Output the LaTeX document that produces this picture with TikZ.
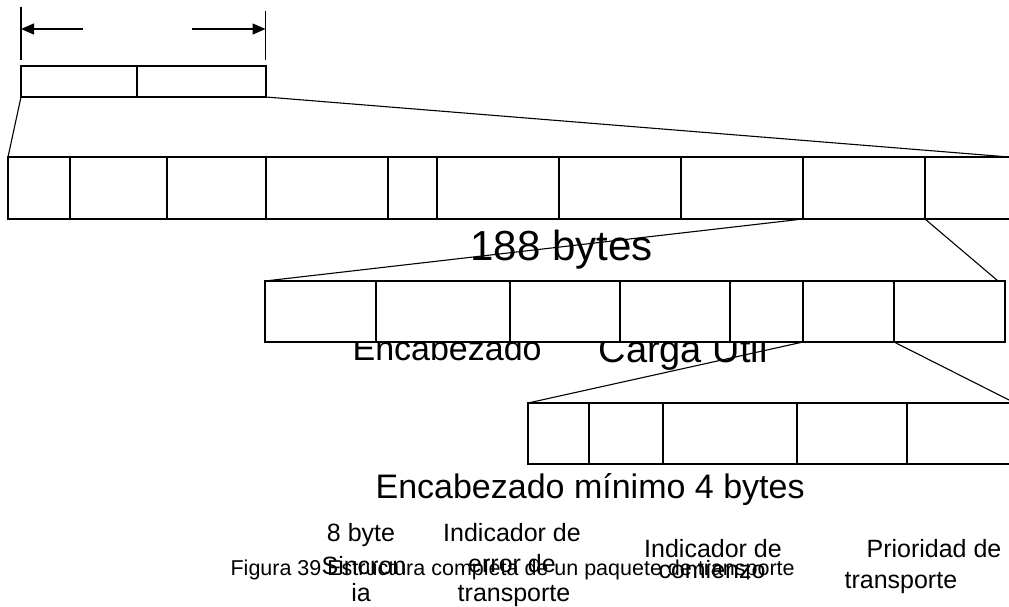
\documentclass[tikz,border=0pt]{standalone}
\usepackage{fontspec}
\setmainfont{Liberation Sans}
\usetikzlibrary{arrows.meta}
\begin{document}
\begin{tikzpicture}[x=1pt,y=-1pt,line width=1.2pt,
  rowbox/.style={draw,fill=white},
  conn/.style={draw,line width=1.1pt},
  dimarrow/.style={draw,-{Triangle[length=13pt,width=11pt]}},
  lbl/.style={inner sep=0pt,anchor=base},
  bigfont/.style={font=\fontsize{42}{48}\selectfont},
  midfont/.style={font=\fontsize{34}{40}\selectfont},
  smallfont/.style={font=\fontsize{25}{30}\selectfont},
  captionfont/.style={font=\fontsize{21.5}{26}\selectfont}]
\useasboundingbox (0,0) rectangle (1009,607);
\clip (0,0) rectangle (1009,607);
% ---- coordinates ----
\coordinate (t0) at (21,66);   \coordinate (b0) at (21,97);
\coordinate (t0r) at (266,66); \coordinate (b0r) at (266,97);
\coordinate (r1tl) at (8,157); \coordinate (r1br) at (1040,219);
\coordinate (r1tr) at (1009,157);
\coordinate (r1a) at (803,219); \coordinate (r1b) at (925,219);
\coordinate (r2tl) at (265,281); \coordinate (r2br) at (1005,342);
\coordinate (r2tr) at (998,281);
\coordinate (r2a) at (803,342); \coordinate (r2b) at (894,342);
\coordinate (r3tl) at (528,403); \coordinate (r3br) at (1040,464);
\coordinate (r3tr) at (1015,403);
\coordinate (vl1) at (21,7);  \coordinate (vl2) at (21,60);
\coordinate (vr1) at (265.5,11); \coordinate (vr2) at (265.5,60);
\coordinate (al0) at (83,29); \coordinate (al1) at (21,29);
\coordinate (ar0) at (192,29); \coordinate (ar1) at (265.5,29);
% ---- texts hidden partly behind row 2 ----
\node[lbl,anchor=base west,midfont] (enc) at (352,360) {Encabezado};
\node[lbl,anchor=base west,font=\fontsize{38}{44}\selectfont] (carga) at (598,362) {Carga Util};
% ---- dimension lines ----
\draw (vl1) -- (vl2);
\draw (vr1) -- (vr2);
\draw[dimarrow] (al0) -- (al1);
\draw[dimarrow] (ar0) -- (ar1);
% ---- row 0 ----
\draw[rowbox] (t0) rectangle (b0r);
\draw (137,66) -- (137,97);
% ---- row 1 ----
\draw[rowbox] (r1tl) rectangle (r1br);
\foreach \x in {70,167,266,388,437,559,681,803,925} \draw (\x,157) -- (\x,219);
% ---- row 2 ----
\draw[rowbox] (r2tl) rectangle (r2br);
\foreach \x in {376,510,620,730,803,894} \draw (\x,281) -- (\x,342);
% ---- row 3 ----
\draw[rowbox] (r3tl) rectangle (r3br);
\foreach \x in {589,663,797,907} \draw (\x,403) -- (\x,464);
% ---- labels ----
\node[lbl,anchor=base west,bigfont] (b188) at (470,260) {188 bytes};
\node[lbl,anchor=base west,midfont] (encmin) at (375,498) {Encabezado mínimo 4 bytes};
% ---- connectors ----
\draw[conn] (b0) -- (r1tl);
\draw[conn] (b0r) -- (r1tr);
\draw[conn] (r1a) -- (r2tl);
\draw[conn] (r1b) -- (r2tr);
\draw[conn] (r2a) -- (r3tl);
\draw[conn] (r2b) -- (r3tr);
% ---- field names ----
\node[lbl,smallfont] (s1) at (361,541) {8 byte};
\node[lbl,smallfont] (s2) at (364,574) {Sincron};
\node[lbl,smallfont] (s3) at (361,601) {ia};
\node[lbl,smallfont] (e1) at (512,541) {Indicador de};
\node[lbl,smallfont] (e2) at (512,572) {error de};
\node[lbl,smallfont] (e3) at (514,601) {transporte};
\node[lbl,smallfont] (c1) at (713,557) {Indicador de};
\node[lbl,smallfont] (c2) at (712,578) {comienzo};
\node[lbl,smallfont,anchor=base west] (p1) at (866,557) {Prioridad de};
\node[lbl,smallfont,anchor=base west] (p2) at (844,588) {transporte};
\node[lbl,captionfont,anchor=base west] (caption) at (230,575) {Figura 39 Estructura completa de un paquete de transporte};
\end{tikzpicture}
\end{document}
